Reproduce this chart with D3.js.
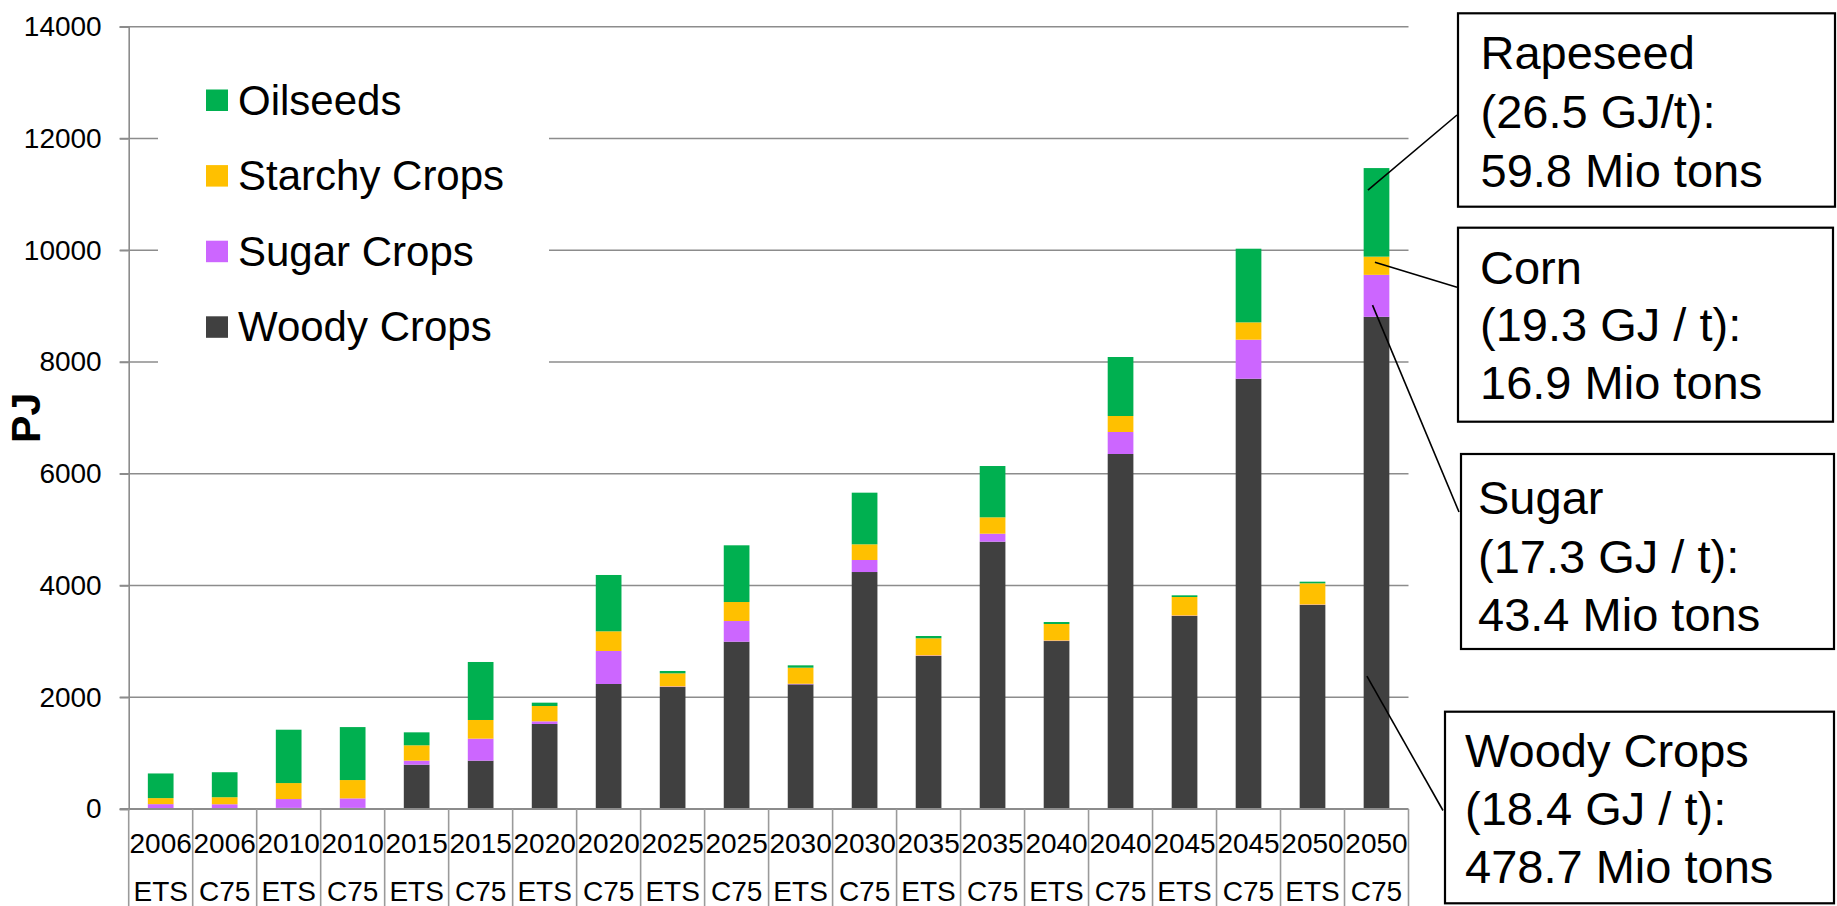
<!DOCTYPE html>
<html>
<head>
<meta charset="utf-8">
<script src="https://cdn.jsdelivr.net/npm/d3@7"></script>
<style>
  html, body { margin: 0; padding: 0; background: #fff; }
  svg { display: block; font-family: "Liberation Sans", Arial, sans-serif; }
</style>
</head>
<body>
<svg id="chart" width="1837" height="906"></svg>
<script>
// Bioenergy crop supply per scenario (PJ)
const years = ["2006","2006","2010","2010","2015","2015","2020","2020","2025","2025",
               "2030","2030","2035","2035","2040","2040","2045","2045","2050","2050"];
const scenarios = ["ETS","C75","ETS","C75","ETS","C75","ETS","C75","ETS","C75",
                   "ETS","C75","ETS","C75","ETS","C75","ETS","C75","ETS","C75"];

const woodyCrops    = [15, 15, 20, 20, 793, 865, 1521, 2237, 2183, 2994, 2231, 4241, 2738, 4784, 3006, 6353, 3454, 7700, 3651, 8808];
const sugarCrops    = [72, 70, 158, 170, 72, 394, 48, 591, 10, 370, 10, 215, 10, 143, 8, 394, 8, 699, 8, 751];
const starchyCrops  = [108, 126, 286, 328, 275, 334, 274, 352, 235, 340, 288, 281, 307, 293, 297, 286, 332, 310, 380, 326];
const oilseeds      = [441, 447, 955, 948, 232, 1038, 60, 1008, 42, 1015, 42, 924, 41, 918, 35, 1056, 30, 1318, 29, 1585];

const seriesKeys   = ["Woody Crops", "Sugar Crops", "Starchy Crops", "Oilseeds"];
const seriesColors = ["#404040", "#CC66FF", "#FFC000", "#00B050"];
const legendOrder  = ["Oilseeds", "Starchy Crops", "Sugar Crops", "Woody Crops"];

const yTicks = [0, 2000, 4000, 6000, 8000, 10000, 12000, 14000];

// Callouts for the 2050 C75 bar
const noteTitles = ["Rapeseed", "Corn", "Sugar", "Woody Crops"];
const noteEnergy = ["(26.5 GJ/t):", "(19.3 GJ / t):", "(17.3 GJ / t):", "(18.4 GJ / t):"];
const noteTons   = ["59.8 Mio tons", "16.9 Mio tons", "43.4 Mio tons", "478.7 Mio tons"];
const noteSeries = ["Oilseeds", "Starchy Crops", "Sugar Crops", "Woody Crops"];

// ---- build table & stack ----
const table = years.map((y, i) => ({
  idx: i,
  "Woody Crops": woodyCrops[i],
  "Sugar Crops": sugarCrops[i],
  "Starchy Crops": starchyCrops[i],
  "Oilseeds": oilseeds[i]
}));
const stacked = d3.stack().keys(seriesKeys)(table);
const color = d3.scaleOrdinal().domain(seriesKeys).range(seriesColors);

const svg = d3.select("#chart");
const plot = { left: 128.7, right: 1408.5, top: 26.7, bottom: 809 };

const x = d3.scaleBand().domain(d3.range(years.length)).range([plot.left, plot.right]).padding(0);
const y = d3.scaleLinear().domain([0, 14000]).range([plot.bottom, plot.top]);
const barW = 25.7;

// gridlines
svg.append("g")
  .selectAll("line")
  .data(yTicks.filter(t => t > 0))
  .join("line")
  .attr("x1", plot.left - 9).attr("x2", plot.right)
  .attr("y1", d => y(d)).attr("y2", d => y(d))
  .attr("stroke", "#8c8c8c").attr("stroke-width", 1.6);

// legend backdrop interrupts the gridlines
svg.append("rect")
  .attr("x", 158).attr("y", 45).attr("width", 391).attr("height", 345)
  .attr("fill", "#fff");

// y axis
const yAxis = svg.append("g")
  .attr("transform", `translate(${plot.left},0)`)
  .call(d3.axisLeft(y).tickValues(yTicks).tickSize(9).tickPadding(18).tickFormat(d3.format("d")));
yAxis.select(".domain").attr("stroke", "#8c8c8c").attr("stroke-width", 1.6);
yAxis.selectAll(".tick line").attr("stroke", "#8c8c8c").attr("stroke-width", 1.6);
yAxis.selectAll(".tick text")
  .attr("fill", "#000").style("font-size", "28px")
  .style("font-family", "'Liberation Sans', Arial, sans-serif");

// bars
svg.append("g")
  .selectAll("g")
  .data(stacked)
  .join("g")
  .attr("fill", d => color(d.key))
  .selectAll("rect")
  .data(d => d)
  .join("rect")
  .attr("x", d => x(d.data.idx) + x.bandwidth() / 2 - barW / 2)
  .attr("width", barW)
  .attr("y", d => y(d[1]))
  .attr("height", d => Math.max(0, y(d[0]) - y(d[1])));

// x axis baseline
svg.append("line")
  .attr("x1", plot.left - 9).attr("x2", plot.right)
  .attr("y1", plot.bottom).attr("y2", plot.bottom)
  .attr("stroke", "#8c8c8c").attr("stroke-width", 1.8);

// category separators
const bounds = d3.range(years.length + 1).map(i => plot.left + i * x.bandwidth());
svg.append("g")
  .selectAll("line")
  .data(bounds)
  .join("line")
  .attr("x1", d => d).attr("x2", d => d)
  .attr("y1", plot.bottom).attr("y2", 906)
  .attr("stroke", "#9a9a9a").attr("stroke-width", 1.6);

// category labels (two rows)
const xLabels = svg.append("g").style("font-size", "28px").attr("text-anchor", "middle").attr("fill", "#000");
xLabels.selectAll("text.yr")
  .data(years)
  .join("text")
  .attr("class", "yr")
  .attr("x", (d, i) => x(i) + x.bandwidth() / 2)
  .attr("y", 852.7)
  .text(d => d);
xLabels.selectAll("text.sc")
  .data(scenarios)
  .join("text")
  .attr("class", "sc")
  .attr("x", (d, i) => x(i) + x.bandwidth() / 2)
  .attr("y", 901)
  .text(d => d);

// y axis title
svg.append("text")
  .attr("transform", `translate(40,${(plot.top + plot.bottom) / 2}) rotate(-90)`)
  .attr("text-anchor", "middle")
  .style("font-size", "41px").style("font-weight", "bold")
  .text("PJ");

// legend
const legend = svg.append("g");
const legendRows = legendOrder.map((k, i) => ({ key: k, i }));
legend.selectAll("rect")
  .data(legendRows)
  .join("rect")
  .attr("x", 206).attr("y", d => 89.5 + d.i * 75.6)
  .attr("width", 22).attr("height", 21.5)
  .attr("fill", d => color(d.key));
legend.selectAll("text")
  .data(legendRows)
  .join("text")
  .attr("x", 238).attr("y", d => 114.5 + d.i * 75.6)
  .style("font-size", "42px")
  .text(d => d.key);

// callout boxes
const boxes = [
  { x: 1458, y: 13.3,  w: 377, h: 193.4, tx: 1480.5, base: 69,    step: 58.8, frac: 0.75, dx: -8.6, ex: 1457, ey: 115 },
  { x: 1458, y: 227.7, w: 375, h: 194,   tx: 1480,   base: 283.5, step: 57.6, frac: 0.69, dx: -1.6, ex: 1457, ey: 287.3 },
  { x: 1461, y: 454,   w: 373, h: 195,   tx: 1478,   base: 514,   step: 58.5, frac: 0.28, dx: -4,   ex: 1459, ey: 512 },
  { x: 1445, y: 711.7, w: 389, h: 191.6, tx: 1465,   base: 766.5, step: 58.2, frac: 0.27, dx: -9.6, ex: 1443, ey: 810.5 }
];
const last = years.length - 1;
const notes = svg.append("g");
boxes.forEach((b, i) => {
  const layer = stacked.find(s => s.key === noteSeries[i])[last];
  const ax = x(last) + x.bandwidth() / 2 + b.dx;
  const ay = y(layer[0] + b.frac * (layer[1] - layer[0]));
  notes.append("line")
    .attr("x1", ax).attr("y1", ay).attr("x2", b.ex).attr("y2", b.ey)
    .attr("stroke", "#000").attr("stroke-width", 1.6);
  notes.append("rect")
    .attr("x", b.x).attr("y", b.y).attr("width", b.w).attr("height", b.h)
    .attr("fill", "#fff").attr("stroke", "#000").attr("stroke-width", 2.2);
  [noteTitles[i], noteEnergy[i], noteTons[i]].forEach((t, j) => {
    notes.append("text")
      .attr("x", b.tx).attr("y", b.base + j * b.step)
      .style("font-size", "47px")
      .text(t);
  });
});
</script>
</body>
</html>
